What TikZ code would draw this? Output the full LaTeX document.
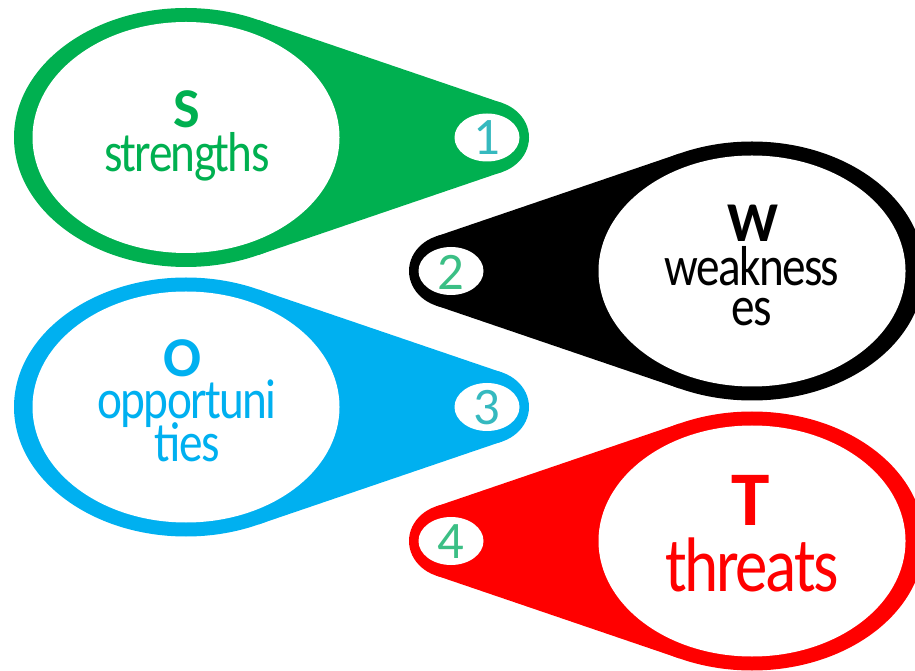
\documentclass[tikz,border=0pt]{standalone}
\usepackage{fontspec}
\setmainfont{Carlito}[FakeStretch=0.84,LetterSpace=-3]
\newfontfamily\capfont{Carlito}
\usepackage{tikz}
\usepackage{xcolor}

\definecolor{sgreen}{HTML}{00B050}
\definecolor{oblue}{HTML}{00B0F0}
\definecolor{tred}{HTML}{FF0000}
\definecolor{numteal}{HTML}{35B9BF}
\definecolor{numgreen}{HTML}{3BBF85}

\tikzset{
  letter/.style={anchor=base,inner sep=0pt,font=\capfont\bfseries\fontsize{32}{34}\selectfont},
  word/.style={anchor=base,inner sep=0pt,font=\fontsize{32}{34}\selectfont},
  bigword/.style={anchor=base,inner sep=0pt,font=\fontsize{44}{46}\selectfont},
  numtxt/.style={inner sep=0pt,font=\capfont\fontsize{30}{32}\selectfont},
}

\begin{document}
\begin{tikzpicture}[x=0.02cm,y=-0.02cm]
\clip (0,0) rectangle (915,671);
% S, tail to the right
\fill[sgreen] (186,137.5) ellipse [x radius=172,y radius=129.5];
\fill[sgreen] (487,137.5) ellipse [x radius=42,y radius=37];
\fill[sgreen] (258.7,20.1)--(502,103)--(502,172)--(258.7,254.9)--cycle;
\fill[white] (186,137.5) ellipse [x radius=153.5,y radius=115.5];
\fill[white] (487,137.5) ellipse [x radius=32.5,y radius=24];
\node[letter,text=sgreen] (S) at (187,128) {S};
\node[word,text=sgreen] (strengths) at (187,172) {strengths};
\node[numtxt,text=numteal] (n1) at (487,138) {1};
% W, tail to the left
\fill[black] (752,271) ellipse [x radius=172,y radius=129.5];
\fill[black] (451,271) ellipse [x radius=42,y radius=37];
\fill[black] (679.3,153.6)--(436,236.5)--(436,305.5)--(679.3,388.4)--cycle;
\fill[white] (752,271) ellipse [x radius=153.5,y radius=115.5];
\fill[white] (451,271) ellipse [x radius=32.5,y radius=24];
\node[letter,text=black] (W) at (753,242) {W};
\node[word,text=black] (weak1) at (752,286) {weakness};
\node[word,text=black] (weak2) at (752,326) {es};
\node[numtxt,text=numgreen] (n2) at (451,272) {2};
% O
\fill[oblue] (186,407) ellipse [x radius=172,y radius=129.5];
\fill[oblue] (487,407) ellipse [x radius=42,y radius=37];
\fill[oblue] (258.7,289.6)--(502,372.5)--(502,441.5)--(258.7,524.4)--cycle;
\fill[white] (186,407) ellipse [x radius=153.5,y radius=115.5];
\fill[white] (487,407) ellipse [x radius=32.5,y radius=24];
\node[letter,text=oblue] (O) at (183,377) {O};
\node[word,text=oblue] (opp1) at (187,419) {opportuni};
\node[word,text=oblue] (opp2) at (187,461) {ties};
\node[numtxt,text=numteal] (n3) at (487,408) {3};
% T
\fill[tred] (752,541) ellipse [x radius=172,y radius=129.5];
\fill[tred] (451,541) ellipse [x radius=42,y radius=37];
\fill[tred] (679.3,423.6)--(436,506.5)--(436,575.5)--(679.3,658.4)--cycle;
\fill[white] (752,541) ellipse [x radius=153.5,y radius=115.5];
\fill[white] (451,541) ellipse [x radius=32.5,y radius=24];
\node[bigword,font=\capfont\bfseries\fontsize{44}{46}\selectfont,text=tred] (T) at (751,525) {T};
\node[bigword,text=tred] (threats) at (752,591) {threats};
\node[numtxt,text=numgreen] (n4) at (451,542) {4};
\end{tikzpicture}
\end{document}
